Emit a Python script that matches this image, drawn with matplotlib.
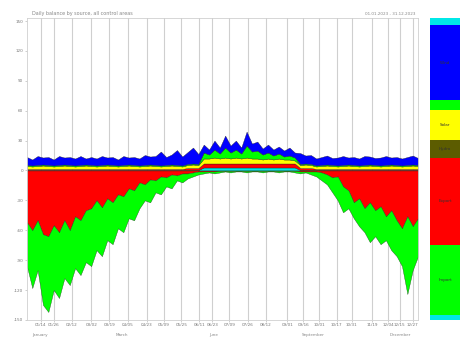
import matplotlib.pyplot as plt
import numpy as np

# day of year, sampled every 5 days
days = np.arange(0, 366, 5)

# negative side (magnitudes), stacked downwards
red_neg = [52, 60, 50, 64, 66, 55, 62, 50, 60, 46, 50, 40, 38, 30, 37, 28, 32, 24, 26, 18,
           20, 12, 14, 9, 10, 6, 7, 4, 5, 3, 3, 2, 1, 1, 1, 1, 0.5, 0.5, 0.5, 0.5,
           0.5, 0.5, 0.5, 0.5, 0.5, 0.5, 0.5, 0.5, 0.5, 0.5, 0.5, 1, 1, 1, 1, 2, 4, 7, 6, 16,
           20, 32, 28, 38, 32, 40, 36, 46, 40, 50, 58, 46, 56, 48]
green_neg = [44, 58, 50, 71, 76, 65, 66, 58, 55, 52, 55, 52, 58, 50, 49, 42, 42, 34, 36, 30,
             30, 26, 16, 23, 12, 18, 9, 14, 5, 9, 5, 4, 3, 2, 1, 2, 1.5, 0.5, 1.5, 0.5,
             0.5, 1.5, 0.5, 0.5, 1.5, 0.5, 0.5, 1.5, 0.5, 0.5, 1.5, 2, 1, 3, 5, 8, 10, 15, 24, 26,
             18, 16, 28, 24, 40, 26, 38, 24, 40, 36, 38, 78, 44, 38]

# positive side, stacked upwards
cyan_pos = [0.5] * 33 + [3, 3, 3, 3, 3, 3, 3, 3, 3, 3, 3, 3, 3, 3, 3, 3, 3, 3] + [0.5] * 23
red_pos = [1] * 30 + [2, 2, 2] + [4, 4, 4, 4, 4, 4, 4, 4, 4, 4, 4, 4, 4, 4, 4, 4, 4, 4] + [2, 2, 2] + [1] * 20
yellow_pos = [3, 2.5, 3, 3.5, 3, 2.5, 3, 3.5, 3, 2.5, 3, 3.5, 3, 2.5, 3, 3.5, 3, 2.5, 3, 3.5,
              3, 2.5, 3, 3.5, 3, 2.5, 3, 3.5, 3, 2.5, 3, 3.5, 3,
              5, 5, 6, 5, 6, 5, 6, 5, 6, 5, 5, 4, 5, 4, 5, 4, 4, 3,
              3, 3.5, 3, 2.5, 3, 3.5, 3, 2.5, 3, 3.5, 3, 2.5, 3, 3.5, 3, 2.5, 3, 3.5, 3, 2.5, 3, 3.5, 3]
green_pos = [1] * 33 + [6, 4, 8, 5, 10, 6, 8, 5, 12, 7, 8, 5, 6, 4, 5, 3, 4, 3] + [1] * 23
blue_pos = [8, 6, 9, 7, 8, 6, 9, 7, 8, 7, 9, 6, 8, 7, 9, 7, 8, 6, 9, 7,
            8, 7, 10, 8, 9, 14, 8, 10, 15, 9, 12, 16, 10,
            8, 5, 9, 6, 12, 7, 9, 6, 14, 8, 9, 6, 8, 6, 7, 6, 8, 5,
            11, 8, 9, 7, 8, 9, 7, 8, 9, 7, 8, 7, 9, 8, 7, 8, 9, 7, 8, 7, 8, 9, 7]

grid_days = [13, 25, 42, 60, 77, 94, 112, 128, 144, 161, 173, 189, 206, 223, 243, 258,
             273, 289, 303, 322, 337, 348, 360]
grid_labels = ['01/14', '01/26', '02/12', '03/02', '03/19', '04/05', '04/23', '05/09', '05/25',
               '06/11', '06/23', '07/09', '07/26', '08/12', '09/01', '09/16', '10/01', '10/17',
               '10/31', '11/19', '12/04', '12/15', '12/27']
y_ticks = [-150, -120, -90, -60, -30, 0, 30, 60, 90, 120, 150]

legend_colors = ['#00e8e8', '#0000ff', '#00ff00', '#ffff00', '#5c5c00', '#ff0000', '#00ff00', '#00e8e8']
legend_sizes = [7, 75, 10, 30, 18, 87, 70, 5]
legend_labels = ['', 'Wind', '', 'Solar', 'Hydro', 'Export', 'Import', '']

plt.rcParams['font.family'] = 'DejaVu Sans'
fig = plt.figure(figsize=(4.64, 3.40), dpi=100)
ax = fig.add_axes([0.058, 0.059, 0.843, 0.888])

for d in grid_days:
    ax.axvline(d, color='#cfcfcf', lw=0.8, zorder=0)

ax.stackplot(days, cyan_pos, red_pos, yellow_pos, green_pos, blue_pos,
             colors=['#00e8e8', '#ff0000', '#ffff00', '#00ff00', '#0000ff'],
             edgecolor='#202020', linewidth=0.25, zorder=2)
ax.stackplot(days, -np.array(red_neg), -np.array(green_neg),
             colors=['#ff0000', '#00ff00'], edgecolor='#1a3a1a', linewidth=0.25, zorder=2)

ax.set_xlim(0, 365)
ax.set_ylim(-149, 153)
ax.set_yticks(y_ticks)
ax.set_yticklabels([str(v) for v in y_ticks], fontsize=3, color='#777777')
ax.set_xticks(grid_days)
ax.set_xticklabels(grid_labels, fontsize=3, color='#777777')
ax.tick_params(length=1.5, width=0.4, color='#aaaaaa', pad=1)
for s in ax.spines.values():
    s.set_color('#d0d0d0')
    s.set_linewidth(0.6)

fig.text(0.07, 0.955, 'Daily balance by source, all control areas', fontsize=3.5, color='#888888')
fig.text(0.895, 0.955, '01.01.2023 - 31.12.2023', fontsize=3, color='#888888', ha='right')
for x, lab in [(0.07, 'January'), (0.25, 'March'), (0.45, 'June'), (0.65, 'September'), (0.84, 'December')]:
    fig.text(x, 0.012, lab, fontsize=3, color='#888888')

# colour key on the right
lax = fig.add_axes([0.927, 0.059, 0.065, 0.888])
bottom = 0
for c, h, lab in zip(legend_colors[::-1], legend_sizes[::-1], legend_labels[::-1]):
    lax.bar(0, h, bottom=bottom, width=1, color=c)
    if lab:
        lax.text(0, bottom + h / 2, lab, fontsize=3, ha='center', va='center', color='#333333')
    bottom += h
lax.set_xlim(-0.5, 0.5)
lax.set_ylim(0, bottom)
lax.axis('off')

plt.savefig('out.png', dpi=100)
